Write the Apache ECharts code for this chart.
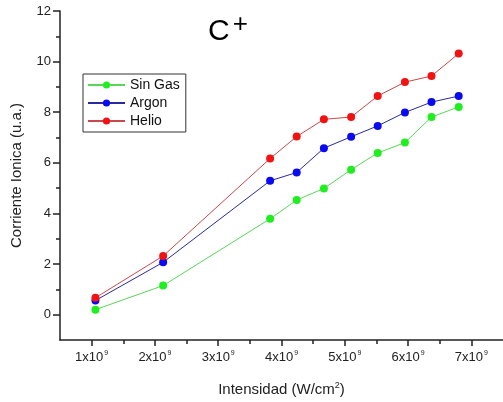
<!DOCTYPE html>
<html>
<head>
<meta charset="utf-8">
<script src="https://cdn.jsdelivr.net/npm/echarts@6/dist/echarts.min.js"></script>
<style>
  html, body { margin: 0; padding: 0; background: #fff; }
  #chart { width: 503px; height: 402px; }
</style>
</head>
<body>
<div id="chart"></div>
<script>
// Laser intensity (units of 1e9 W/cm^2)
const intensity = [1.06, 2.13, 3.82, 4.24, 4.67, 5.10, 5.52, 5.95, 6.37, 6.80];
// Ion current (arb. units) for each gas condition
const sinGas = [0.20, 1.15, 3.79, 4.53, 4.99, 5.73, 6.39, 6.80, 7.81, 8.21];
const argon  = [0.56, 2.07, 5.29, 5.62, 6.58, 7.03, 7.46, 7.99, 8.40, 8.64];
const helio  = [0.67, 2.32, 6.17, 7.04, 7.72, 7.81, 8.64, 9.19, 9.43, 10.32];

const xMajor = [1, 2, 3, 4, 5, 6, 7];
const xMinor = [1.5, 2.5, 3.5, 4.5, 5.5, 6.5];
const yMajor = [0, 2, 4, 6, 8, 10, 12];
const yMinor = [1, 3, 5, 7, 9, 11];

const pairs = vals => intensity.map((x, i) => [x, vals[i]]);

const font = 'Liberation Sans, Arial, sans-serif';
const axisColor = '#222';

const chart = echarts.init(document.getElementById('chart'), null, { renderer: 'canvas' });

function mkSeries(name, vals, dot, line) {
  return {
    name,
    type: 'line',
    data: pairs(vals),
    symbol: 'circle',
    symbolSize: 8,
    showSymbol: true,
    itemStyle: { color: dot },
    lineStyle: { color: line, width: 1 },
    emphasis: { disabled: true },
    animation: false,
    z: 3
  };
}

chart.setOption({
  animation: false,
  backgroundColor: '#fff',
  title: {
    text: '{c|C}{p|+}',
    left: 203,
    top: 7,
    textStyle: {
      fontWeight: 'normal',
      rich: {
        c: { fontFamily: font, fontSize: 30, fontWeight: 'normal', color: '#000' },
        p: { fontFamily: font, fontSize: 26, fontWeight: 'normal', color: '#000', verticalAlign: 'top', padding: [0, 0, 14, 3] }
      }
    }
  },
  legend: {
    orient: 'vertical',
    left: 83,
    top: 74,
    width: 106,
    itemWidth: 37,
    itemHeight: 9,
    itemGap: 4,
    padding: [4, 6, 4, 4],
    borderColor: '#333',
    borderWidth: 1,
    textStyle: { fontFamily: font, fontSize: 14, color: '#111' },
    data: ['Sin Gas', 'Argon', 'Helio']
  },
  grid: { left: 60, right: 0, top: 11, bottom: 61, containLabel: false },
  xAxis: [{
    type: 'value',
    min: 0.5,
    max: 7.5,
    name: 'Intensidad (W/cm{s|2})',
    nameLocation: 'middle',
    nameGap: 41,
    nameTextStyle: {
      fontFamily: font, fontSize: 15, color: '#222',
      rich: { s: { fontFamily: font, fontSize: 9, color: '#222', verticalAlign: 'top', padding: [0, 0, 8, 0] } }
    },
    axisLine: { show: true, onZero: false, lineStyle: { color: axisColor, width: 1.5 } },
    axisTick: { show: true, customValues: xMajor, length: 6, inside: false, lineStyle: { color: axisColor, width: 1.5 } },
    axisLabel: {
      customValues: xMajor,
      margin: 10,
      formatter: v => '{n|' + v + 'x10}{s|9}',
      rich: {
        n: { fontFamily: font, fontSize: 13, color: '#222' },
        s: { fontFamily: font, fontSize: 7, color: '#222', verticalAlign: 'top', padding: [0, 0, 7, 1] }
      }
    },
    splitLine: { show: false }
  }, {
    type: 'value',
    min: 0.5,
    max: 7.5,
    position: 'bottom',
    axisLine: { show: false, onZero: false },
    axisTick: { show: true, customValues: xMinor, length: 4, lineStyle: { color: axisColor, width: 1.5 } },
    axisLabel: { show: false },
    splitLine: { show: false }
  }],
  yAxis: [{
    type: 'value',
    min: -1,
    max: 12,
    name: 'Corriente Ionica (u.a.)',
    nameLocation: 'middle',
    nameGap: 36,
    nameTextStyle: { fontFamily: font, fontSize: 15, color: '#222' },
    axisLine: { show: true, onZero: false, lineStyle: { color: axisColor, width: 1.5 } },
    axisTick: { show: true, customValues: yMajor, length: 7, lineStyle: { color: axisColor, width: 1.5 } },
    axisLabel: { customValues: yMajor, margin: 9, fontFamily: font, fontSize: 13, color: '#222' },
    splitLine: { show: false }
  }, {
    type: 'value',
    min: -1,
    max: 12,
    position: 'left',
    axisLine: { show: false, onZero: false },
    axisTick: { show: true, customValues: yMinor, length: 4, lineStyle: { color: axisColor, width: 1.5 } },
    axisLabel: { show: false },
    splitLine: { show: false }
  }],
  series: [
    mkSeries('Sin Gas', sinGas, '#1fee1f', '#5ad65a'),
    mkSeries('Argon', argon, '#0a0af2', '#2a2aa0'),
    mkSeries('Helio', helio, '#f21212', '#c84a4a')
  ]
});
</script>
</body>
</html>
